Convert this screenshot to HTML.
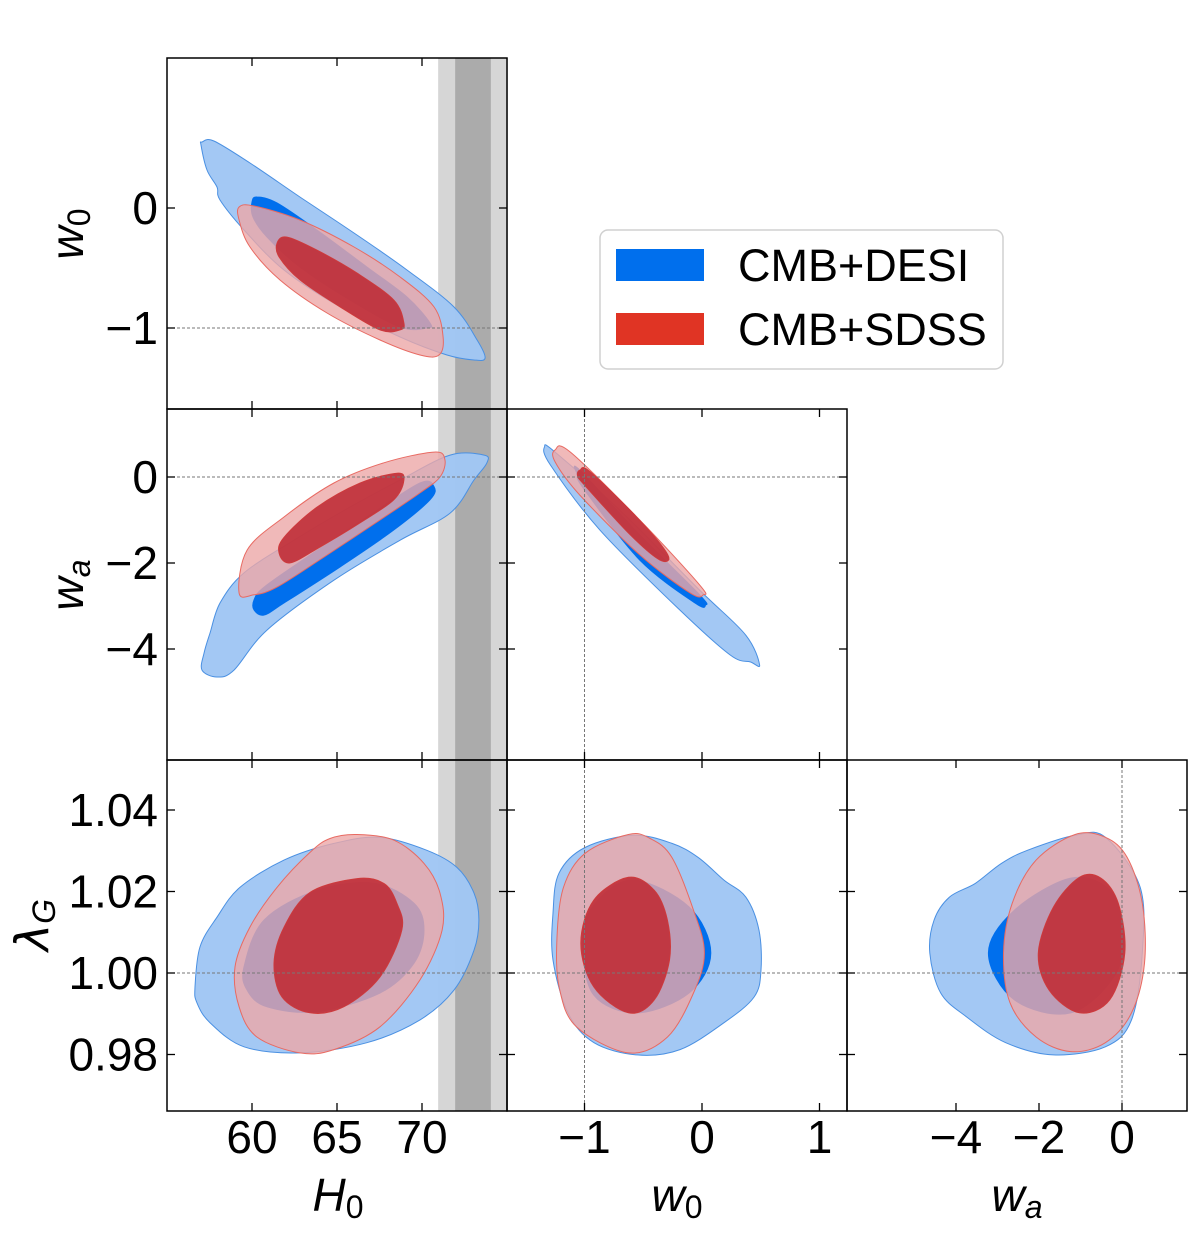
<!DOCTYPE html>
<html><head><meta charset="utf-8">
<style>
html,body{margin:0;padding:0;background:#fff;}
svg{display:block;font-family:"Liberation Sans","DejaVu Sans",sans-serif;}
</style></head>
<body>
<svg id="fig" width="1200" height="1233" viewBox="0 0 1200 1233">
<g id="bands"></g>
<g id="contours"></g>
<g id="guides"></g>
<g id="frames"></g>
<g id="labels"></g>
<g>
  <rect x="600" y="230" width="403" height="139" rx="8" fill="#fff" stroke="#d0d0d0" stroke-width="1.5"/>
  <rect x="616" y="249" width="88" height="32" fill="#006fed"/>
  <text x="738" y="281" font-size="45" fill="#000">CMB+DESI</text>
  <rect x="616" y="313" width="88" height="32" fill="#e03424"/>
  <text x="738" y="345" font-size="45" fill="#000">CMB+SDSS</text>
</g>
<g font-family="'Liberation Sans',sans-serif" font-size="46">
  <text x="338" y="1211" text-anchor="middle"><tspan font-style="italic">H</tspan><tspan font-size="32" dy="7">0</tspan></text>
  <text x="677" y="1211" text-anchor="middle"><tspan font-style="italic">w</tspan><tspan font-size="32" dy="7">0</tspan></text>
  <text x="1017" y="1211" text-anchor="middle"><tspan font-style="italic">w</tspan><tspan font-style="italic" font-size="32" dy="7">a</tspan></text>
  <text transform="translate(83,234) rotate(-90)" text-anchor="middle"><tspan font-style="italic">w</tspan><tspan font-size="32" dy="7">0</tspan></text>
  <text transform="translate(83,585) rotate(-90)" text-anchor="middle"><tspan font-style="italic">w</tspan><tspan font-style="italic" font-size="32" dy="7">a</tspan></text>
  <text transform="translate(48,925) rotate(-90)" text-anchor="middle"><tspan font-family="'DejaVu Sans',sans-serif" font-style="italic">λ</tspan><tspan font-style="italic" font-size="32" dy="7">G</tspan></text>
</g>
</svg>
<script>
// ---- axis tick data ----
const h0Ticks = [60, 65, 70];
const w0Ticks = [-1, 0, 1];
const waTicks = [-4, -2, 0];
const w0RowTicks = [0, -1];
const waRowTicks = [0, -2, -4];
const lamTicks = [1.04, 1.02, 1.00, 0.98];
const h0Band = [73.0, 1.05, 2.05]; // center, 1sigma, 2sigma

// ---- contour data (H0, w0) ----
const h0w0_blueOuterX = [57.06,57.76,59.88,62.82,66.0,69.12,71.88,73.24,73.71,73.06,71.47,68.71,65.18,61.88,59.53,58.12,57.94,57.35,57.0];
const h0w0_blueOuterY = [0.55,0.558,0.375,0.092,-0.208,-0.517,-0.825,-1.1,-1.25,-1.267,-1.225,-1.075,-0.825,-0.517,-0.183,0.067,0.175,0.317,0.525];
const h0w0_blueInnerX = [60.0,60.29,61.47,63.82,66.76,69.12,70.47,70.29,68.71,65.76,62.82,60.88,60.06];
const h0w0_blueInnerY = [0.05,0.092,0.042,-0.183,-0.492,-0.742,-0.958,-1.0,-0.992,-0.767,-0.492,-0.242,-0.075];
const h0w0_redOuterX = [59.24,60.12,62.82,66.0,68.71,70.71,71.24,71.0,69.88,67.53,64.41,61.65,59.88,59.24];
const h0w0_redOuterY = [0.008,0.017,-0.1,-0.325,-0.575,-0.825,-1.075,-1.225,-1.225,-1.1,-0.875,-0.6,-0.325,-0.1];
const h0w0_redInnerX = [61.47,62.06,63.82,66.18,68.35,68.94,68.71,67.53,65.18,62.82,61.59];
const h0w0_redInnerY = [-0.292,-0.242,-0.35,-0.542,-0.767,-0.958,-1.017,-1.017,-0.825,-0.6,-0.408];
// ---- (H0, wa) ----
const h0wa_blueOuterX = [57.06,57.18,57.53,58.12,59.53,62.47,65.76,68.71,71.65,73.65,73.82,73.06,71.65,68.71,64.82,60.88,58.94,57.94];
const h0wa_blueOuterY = [-4.49,-4.09,-3.63,-2.93,-2.23,-1.47,-0.70,-0.07,0.51,0.51,0.33,-0.07,-0.84,-1.47,-2.40,-3.56,-4.49,-4.65];
const h0wa_blueInnerX = [60.12,60.71,63.24,66.76,69.88,70.71,70.47,68.35,65.18,61.88,60.71,60.12];
const h0wa_blueInnerY = [-2.86,-2.56,-1.86,-0.93,-0.14,-0.23,-0.53,-1.23,-2.09,-2.93,-3.21,-3.09];
const h0wa_redOuterX = [59.24,59.71,61.88,64.82,67.76,70.71,71.35,71.06,69.88,67.53,64.24,61.47,60.12];
const h0wa_redOuterY = [-2.70,-1.70,-0.93,-0.14,0.33,0.58,0.40,0,-0.37,-1.0,-1.86,-2.56,-2.74];
const h0wa_redInnerX = [61.59,61.88,63.82,66.35,68.53,68.94,68.35,66.35,64.0,62.24];
const h0wa_redInnerY = [-1.77,-1.40,-0.70,-0.14,0.09,-0.07,-0.53,-1.07,-1.63,-2.0];
// ---- (w0, wa) ----
const w0wa_blueOuterX = [-1.34,-1.25,-0.70,-0.02,0.37,0.49,0.41,0.24,-0.19,-0.87,-1.29];
const w0wa_blueOuterY = [0.70,0.58,-0.77,-2.63,-3.67,-4.37,-4.30,-4.14,-3.09,-1.23,0.28];
const w0wa_blueInnerX = [-1.04,-0.53,-0.02,0.03,-0.06,-0.53,-1.0,-1.06];
const w0wa_blueInnerY = [0.16,-1.35,-2.74,-2.98,-2.93,-1.93,-0.30,0.05];
const w0wa_redOuterX = [-1.25,-1.12,-0.53,-0.02,0.01,-0.10,-0.53,-1.04,-1.25];
const w0wa_redOuterY = [0.63,0.58,-1.0,-2.51,-2.74,-2.70,-1.81,-0.42,0.35];
const w0wa_redInnerX = [-1.04,-0.95,-0.53,-0.29,-0.36,-0.61,-1.0,-1.06];
const w0wa_redInnerY = [0.16,0.12,-1.0,-1.81,-1.93,-1.35,-0.19,0.02];
// ---- (H0, lambda) ----
const h0lam_blueOuterX = [56.65,56.94,57.94,59.29,61.88,64.82,67.53,70.29,72.06,73.06,73.35,73.06,71.88,69.88,66.76,62.82,59.53,57.53,56.76];
const h0lam_blueOuterY = [0.9966,1.0064,1.0137,1.0210,1.0277,1.0318,1.0333,1.0301,1.0259,1.0196,1.0130,1.0056,0.9958,0.9885,0.9829,0.9804,0.9819,0.9878,0.9927];
const h0lam_blueInnerX = [59.53,60.71,63.82,67.18,69.53,70.12,69.53,67.53,63.82,60.88,59.71];
const h0lam_blueInnerY = [1.0015,1.0130,1.0203,1.0220,1.0171,1.0105,1.0024,0.9951,0.9905,0.9917,0.9958];
const h0lam_redOuterX = [63.41,61.47,59.88,59.0,59.24,60.29,62.82,64.82,67.53,69.88,71.18,71.06,70.12,68.35,66.18,64.59];
const h0lam_redOuterY = [1.0296,1.0210,1.0113,1.0015,0.9917,0.9843,0.9804,0.9812,0.9868,0.9983,1.0105,1.0196,1.0269,1.0326,1.0340,1.0330];
const h0lam_redInnerX = [66.18,63.41,61.88,61.29,61.76,63.41,65.41,67.53,68.82,68.53,67.76];
const h0lam_redInnerY = [1.0232,1.0198,1.0113,1.0024,0.9941,0.9902,0.9917,0.9990,1.0105,1.0171,1.0220];
// ---- (w0, lambda) ----
const w0lam_blueOuterX = [-1.217,-0.996,-0.587,-0.255,-0.034,0.187,0.374,0.485,0.502,0.443,0.187,-0.187,-0.553,-0.919,-1.140,-1.268,-1.268];
const w0lam_blueOuterY = [1.0245,1.0308,1.0338,1.0318,1.0284,1.0228,1.0186,1.0105,1.0007,0.9941,0.9878,0.9812,0.9799,0.9829,0.9902,1.0032,1.0147];
const w0lam_blueInnerX = [-0.589,-0.110,0.075,-0.110,-0.552,-0.922,-1.014,-0.922];
const w0lam_blueInnerY = [1.0228,1.0162,1.0049,0.9951,0.9902,0.9946,1.0073,1.0166];
const w0lam_redOuterX = [-0.626,-0.994,-1.178,-1.234,-1.216,-1.069,-0.626,-0.294,-0.072,0.020,-0.072,-0.257,-0.442];
const w0lam_redOuterY = [1.0340,1.0294,1.0211,1.0088,0.9966,0.9868,0.9804,0.9843,0.9951,1.0049,1.0154,1.0284,1.0330];
const w0lam_redInnerX = [-0.626,-0.922,-1.032,-0.922,-0.626,-0.405,-0.276,-0.294,-0.405];
const w0lam_redInnerY = [1.0235,1.0179,1.0073,0.9966,0.9902,0.9934,1.0032,1.0130,1.0203];
// ---- (wa, lambda) ----
const walam_blueOuterX = [-4.631,-4.528,-4.161,-3.535,-2.906,-2.280,-1.130,-0.400,0.436,0.489,0.229,-0.400,-1.653,-2.802,-3.742,-4.369];
const walam_blueOuterY = [1.0049,1.0130,1.0186,1.0220,1.0269,1.0301,1.0338,1.0333,1.0211,1.0049,0.9885,0.9819,0.9799,0.9829,0.9892,0.9951];
const walam_blueInnerX = [-3.219,-2.593,-1.236,-0.289,0.020,-0.169,-1.236,-2.593];
const walam_blueInnerY = [1.0049,1.0154,1.0233,1.0203,1.0105,0.9995,0.9902,0.9934];
const walam_redOuterX = [-1.130,-2.070,-2.646,-2.855,-2.699,-2.070,-1.236,-0.400,0.229,0.542,0.489,0.123,-0.400];
const walam_redOuterY = [1.0340,1.0277,1.0171,1.0049,0.9927,0.9843,0.9807,0.9829,0.9902,1.0024,1.0171,1.0284,1.0333];
const walam_redInnerX = [-1.026,-1.653,-2.019,-1.759,-1.026,-0.294,0.070,-0.087,-0.506];
const walam_redInnerY = [1.0235,1.0162,1.0049,0.9958,0.9902,0.9934,1.0049,1.0171,1.0233];

// ---- axes ----
const NS = 'http://www.w3.org/2000/svg';
function lin(d0, d1, p0, p1) { return v => p0 + (v - d0) * (p1 - p0) / (d1 - d0); }
const xH0 = lin(60, 70, 252, 422);
const xW0 = lin(-1, 1, 584.5, 819.5);
const xWa = lin(-4, 0, 956, 1122);
const yW0 = lin(0, -1, 208, 328);
const yWa = lin(0, -4, 477, 649);
const yLam = lin(1.00, 1.04, 973, 810);
const COLS = [[167,507],[507,847],[847,1187]];
const ROWS = [[58,409],[409,760],[760,1111]];

function mk(tag, attrs, parent) {
  const e = document.createElementNS(NS, tag);
  for (const k in attrs) e.setAttribute(k, attrs[k]);
  parent.appendChild(e);
  return e;
}
function smoothPath(pts) {
  const n = pts.length; let d = 'M' + pts[0][0].toFixed(1) + ',' + pts[0][1].toFixed(1);
  for (let i = 0; i < n; i++) {
    const p0 = pts[(i - 1 + n) % n], p1 = pts[i], p2 = pts[(i + 1) % n], p3 = pts[(i + 2) % n];
    const c1x = p1[0] + (p2[0] - p0[0]) / 6, c1y = p1[1] + (p2[1] - p0[1]) / 6;
    const c2x = p2[0] - (p3[0] - p1[0]) / 6, c2y = p2[1] - (p3[1] - p1[1]) / 6;
    d += 'C' + c1x.toFixed(1) + ',' + c1y.toFixed(1) + ' ' + c2x.toFixed(1) + ',' + c2y.toFixed(1) + ' ' + p2[0].toFixed(1) + ',' + p2[1].toFixed(1);
  }
  return d + 'Z';
}

// gray H0 band
const bands = document.getElementById('bands');
let b2 = mk('rect', {x: xH0(h0Band[0]-h0Band[2]), y: 58, width: xH0(h0Band[0]+h0Band[2]) - xH0(h0Band[0]-h0Band[2]), height: 1053, fill: '#d6d6d6'}, bands);


let b1 = mk('rect', {x: xH0(h0Band[0]-h0Band[1]), y: 58, width: xH0(h0Band[0]+h0Band[1]) - xH0(h0Band[0]-h0Band[1]), height: 1053, fill: '#ababab'}, bands);



// contours
const cg = document.getElementById('contours');
const styles = {
  blueOuter: {fill: '#a0c6f4', stroke: '#4a90e2', 'stroke-width': 1, 'fill-opacity': 0.97},
  blueInner: {fill: '#006fed', stroke: '#006fed', 'stroke-width': 1},
  redOuter: {fill: 'rgb(236,168,168)', 'fill-opacity': 0.8, stroke: '#e86a62', 'stroke-width': 1},
  redInner: {fill: 'rgb(192,48,58)', 'fill-opacity': 0.92, stroke: '#d03a3a', 'stroke-width': 0.8}
};
const panels = [
  {key: 'h0-w0', sx: xH0, sy: yW0, c: 0, r: 0, s: {blueOuter:[h0w0_blueOuterX,h0w0_blueOuterY], blueInner:[h0w0_blueInnerX,h0w0_blueInnerY], redOuter:[h0w0_redOuterX,h0w0_redOuterY], redInner:[h0w0_redInnerX,h0w0_redInnerY]}},
  {key: 'h0-wa', sx: xH0, sy: yWa, c: 0, r: 1, s: {blueOuter:[h0wa_blueOuterX,h0wa_blueOuterY], blueInner:[h0wa_blueInnerX,h0wa_blueInnerY], redOuter:[h0wa_redOuterX,h0wa_redOuterY], redInner:[h0wa_redInnerX,h0wa_redInnerY]}},
  {key: 'w0-wa', sx: xW0, sy: yWa, c: 1, r: 1, s: {blueOuter:[w0wa_blueOuterX,w0wa_blueOuterY], blueInner:[w0wa_blueInnerX,w0wa_blueInnerY], redOuter:[w0wa_redOuterX,w0wa_redOuterY], redInner:[w0wa_redInnerX,w0wa_redInnerY]}},
  {key: 'h0-lambda', sx: xH0, sy: yLam, c: 0, r: 2, s: {blueOuter:[h0lam_blueOuterX,h0lam_blueOuterY], blueInner:[h0lam_blueInnerX,h0lam_blueInnerY], redOuter:[h0lam_redOuterX,h0lam_redOuterY], redInner:[h0lam_redInnerX,h0lam_redInnerY]}},
  {key: 'w0-lambda', sx: xW0, sy: yLam, c: 1, r: 2, s: {blueOuter:[w0lam_blueOuterX,w0lam_blueOuterY], blueInner:[w0lam_blueInnerX,w0lam_blueInnerY], redOuter:[w0lam_redOuterX,w0lam_redOuterY], redInner:[w0lam_redInnerX,w0lam_redInnerY]}},
  {key: 'wa-lambda', sx: xWa, sy: yLam, c: 2, r: 2, s: {blueOuter:[walam_blueOuterX,walam_blueOuterY], blueInner:[walam_blueInnerX,walam_blueInnerY], redOuter:[walam_redOuterX,walam_redOuterY], redInner:[walam_redInnerX,walam_redInnerY]}}
];
const defs = mk('defs', {}, document.getElementById('fig'));
panels.forEach((p, i) => {
  const cp = mk('clipPath', {id: 'clip' + i}, defs);
  mk('rect', {x: COLS[p.c][0], y: ROWS[p.r][0], width: 340, height: 351}, cp);
  const g = mk('g', {'clip-path': 'url(#clip' + i + ')'}, cg);
  
  
  ['blueOuter', 'blueInner', 'redOuter', 'redInner'].forEach(k => {
    const xs = p.s[k][0], ys = p.s[k][1];
    const pts = xs.map((v, j) => [p.sx(v), p.sy(ys[j])]);
    const path = mk('path', Object.assign({d: smoothPath(pts)}, styles[k]), g);
    
    
  });
});

// reference guide lines
const gg = document.getElementById('guides');
function guide(x1, y1, x2, y2, name) {
  const l = mk('line', {x1, y1, x2, y2, stroke: '#777', 'stroke-width': 1, 'stroke-dasharray': '3,2'}, gg);
  
  
}
guide(167, yW0(-1), 507, yW0(-1), 'guide-w0-minus1-h0');
guide(167, yWa(0), 507, yWa(0), 'guide-wa-0-h0');
guide(507, yWa(0), 847, yWa(0), 'guide-wa-0-w0');
guide(xW0(-1), 409, xW0(-1), 760, 'guide-w0-minus1-wa');
guide(xW0(-1), 760, xW0(-1), 1111, 'guide-w0-minus1-lambda');
guide(xWa(0), 760, xWa(0), 1111, 'guide-wa-0-lambda');
[0,1,2].forEach(c => guide(COLS[c][0], yLam(1.0), COLS[c][1], yLam(1.0), 'guide-lambda-1-col' + c));

// frames & ticks
const fg = document.getElementById('frames');
const colTicks = [[h0Ticks, xH0], [w0Ticks, xW0], [waTicks, xWa]];
const rowTicks = [[w0RowTicks, yW0], [waRowTicks, yWa], [lamTicks, yLam]];
panels.forEach(p => {
  const [x0, x1] = COLS[p.c], [y0, y1] = ROWS[p.r];
  const fr = mk('rect', {x: x0, y: y0, width: x1 - x0, height: y1 - y0, fill: 'none', stroke: '#000', 'stroke-width': 1.5}, fg);
  
  
  const [xt, sx] = colTicks[p.c];
  xt.forEach(v => { const x = sx(v);
    mk('line', {x1: x, y1: y1, x2: x, y2: y1 - 8, stroke: '#000', 'stroke-width': 1.3}, fg);
    mk('line', {x1: x, y1: y0, x2: x, y2: y0 + 8, stroke: '#000', 'stroke-width': 1.3}, fg); });
  const [yt, sy] = rowTicks[p.r];
  yt.forEach(v => { const y = sy(v);
    mk('line', {x1: x0, y1: y, x2: x0 + 8, y2: y, stroke: '#000', 'stroke-width': 1.3}, fg);
    mk('line', {x1: x1, y1: y, x2: x1 - 8, y2: y, stroke: '#000', 'stroke-width': 1.3}, fg); });
});

// tick labels
const lg = document.getElementById('labels');
function fmt(v, dec) { const s = Math.abs(v).toFixed(dec); return (v < 0 ? '\u2212' : '') + s; }
colTicks.forEach(([ticks, sx], c) => ticks.forEach(v => {
  const t = mk('text', {x: sx(v), y: 1153, 'font-size': 46, 'text-anchor': 'middle'}, lg);
  t.textContent = fmt(v, 0);
  
  
}));
rowTicks.forEach(([ticks, sy], r) => ticks.forEach(v => {
  const t = mk('text', {x: 158, y: sy(v) + 16, 'font-size': 46, 'text-anchor': 'end'}, lg);
  t.textContent = fmt(v, r === 2 ? 2 : 0);
  
  
}));
</script>
</body></html>
